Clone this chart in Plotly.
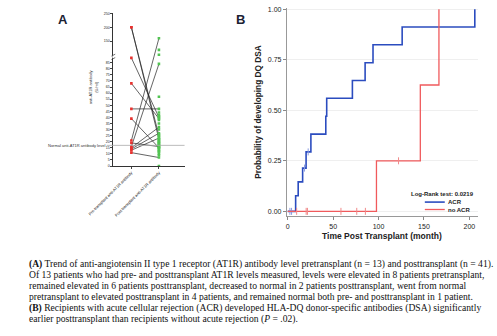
import numpy as np
import plotly.graph_objects as go

W, H = 497, 336

# ---------------- Panel A data (anti-AT1R antibody, U/ml) ----------------
pre_paired = [200, 200, 89, 68, 47, 39, 21, 19, 16, 15, 14, 13, 11]
post_paired = [22, 25, 40, 39, 47, 15, 160, 16, 84, 32, 27, 23, 7]
post_unpaired = [118, 100, 57, 44, 42, 41, 38, 35, 30, 26, 24, 22, 21, 20, 20,
                 19, 18, 18, 17, 16, 15, 14, 13, 12, 12, 10, 9, 0]
normal_level = 17
lower_ticks = list(range(0, 90, 5))
upper_ticks = [150, 200, 250]
cat_labels = ["Pre-transplant anti-AT1R antibody", "Post-transplant anti-AT1R antibody"]

# ---------------- Panel B data (Kaplan-Meier) ----------------
acr_t = [0, 8.7, 11.5, 16.4, 20.2, 25.5, 41.9, 42.9, 71.2, 85.2, 93.9, 126, 206]
acr_p = [0, 0.077, 0.146, 0.214, 0.294, 0.382, 0.47, 0.559, 0.647, 0.735, 0.824, 0.912, 1.0]
acr_cens = [2.4, 4.2, 18.5, 22.5]
noacr_t = [0, 97.7, 146, 166.5]
noacr_p = [0, 0.25, 0.625, 1.0]
noacr_cens = [9.8, 20.3, 21.7, 58.6, 76, 85.5, 122]
km_xticks = [0, 50, 100, 150, 200]
km_yticks = [0, 0.25, 0.5, 0.75, 1.0]
logrank = "Log-Rank test: 0.0219"

caption = [
    "<b>(A)</b> Trend of anti-angiotensin II type 1 receptor (AT1R) antibody level pretransplant (n = 13) and posttransplant (n = 41).",
    "Of 13 patients who had pre- and posttransplant AT1R levels measured, levels were elevated in 8 patients pretransplant,",
    "remained elevated in 6 patients posttransplant, decreased to normal in 2 patients posttransplant, went from normal",
    "pretransplant to elevated posttransplant in 4 patients, and remained normal both pre- and posttransplant in 1 patient.",
    "<b>(B)</b> Recipients with acute cellular rejection (ACR) developed HLA-DQ donor-specific antibodies (DSA) significantly",
    "earlier posttransplant than recipients without acute rejection (<i>P</i> = .02).",
]

BLUE = "#2b4cbf"
RED = "#f05a5c"


def brk(v):
    """broken-axis scale: linear 0-90, compressed above 100"""
    v = np.asarray(v, dtype=float)
    return np.where(v <= 90, v, 91.5 + (v - 100) * 0.2267)


def px(x):
    return x / W


def py(y):
    return 1 - y / H


fig = go.Figure()

# ---- Panel A ----
lx, ly = [], []
for a, b in zip(pre_paired, post_paired):
    lx += [0, 1, None]
    ly += [float(brk(a)), float(brk(b)), None]
fig.add_trace(go.Scatter(x=lx, y=ly, mode="lines", line=dict(color="#222", width=0.7),
                         xaxis="x", yaxis="y", hoverinfo="skip", showlegend=False))
post_all = post_paired + post_unpaired
fig.add_trace(go.Scatter(x=[1] * len(post_all), y=brk(post_all), mode="markers",
                         marker=dict(color="#52c452", size=2.6, symbol="square"),
                         xaxis="x", yaxis="y", showlegend=False))
fig.add_trace(go.Scatter(x=[0] * len(pre_paired), y=brk(pre_paired), mode="markers",
                         marker=dict(color="#e8322f", size=2.6, symbol="square"),
                         xaxis="x", yaxis="y", showlegend=False))

# ---- Panel B ----
def km_at(ts, ps, t):
    i = np.searchsorted(np.asarray(ts), t, side="right") - 1
    return np.asarray(ps)[i]

fig.add_trace(go.Scatter(x=acr_t, y=acr_p, mode="lines", line=dict(color=BLUE, width=1.6, shape="hv"),
                         xaxis="x2", yaxis="y2", showlegend=False))
fig.add_trace(go.Scatter(x=acr_cens, y=km_at(acr_t, acr_p, acr_cens), mode="markers",
                         marker=dict(symbol="line-ns", size=5, line=dict(color="#8a9be0", width=1)),
                         xaxis="x2", yaxis="y2", showlegend=False))
fig.add_trace(go.Scatter(x=noacr_t, y=noacr_p, mode="lines", line=dict(color=RED, width=1.3, shape="hv"),
                         xaxis="x2", yaxis="y2", showlegend=False))
fig.add_trace(go.Scatter(x=noacr_cens, y=km_at(noacr_t, noacr_p, noacr_cens), mode="markers",
                         marker=dict(symbol="line-ns", size=5, line=dict(color="#f08a8a", width=1)),
                         xaxis="x2", yaxis="y2", showlegend=False))

tick_a = lower_ticks + upper_ticks
fig.update_layout(
    width=W, height=H, margin=dict(l=0, r=0, t=0, b=0),
    paper_bgcolor="white", plot_bgcolor="white",
    font=dict(family="Liberation Sans, Arial", color="#222"),
    xaxis=dict(domain=[px(93), px(168)], range=[-0.655, 1.93], anchor="y",
               tickvals=[0, 1], ticktext=cat_labels, tickangle=-45,
               tickfont=dict(size=4), ticks="outside", ticklen=2, tickwidth=0.6,
               showline=True, linecolor="#333", linewidth=0.8, showgrid=False, zeroline=False),
    yaxis=dict(domain=[py(166), py(11)], range=[0, 126], anchor="x",
               tickvals=[float(v) for v in brk(tick_a)], ticktext=[str(t) for t in tick_a],
               tickfont=dict(size=3.6), ticks="outside", ticklen=2, tickwidth=0.6,
               showline=True, linecolor="#333", linewidth=0.8, showgrid=False, zeroline=False),
    xaxis2=dict(domain=[px(275.7), px(476.5)], range=[-1, 209], anchor="y2",
                tickvals=km_xticks, tickfont=dict(size=7, color="#222"),
                ticks="outside", ticklen=3, tickcolor="#888",
                showline=True, linecolor="#999", linewidth=1, showgrid=False, zeroline=False),
    yaxis2=dict(domain=[py(217), py(6)], range=[-0.025, 1.006], anchor="x2",
                tickvals=km_yticks, ticktext=["0.00", "0.25", "0.50", "0.75", "1.00"],
                tickfont=dict(size=7, color="#222"),
                ticks="outside", ticklen=3, tickcolor="#888",
                showline=True, linecolor="#999", linewidth=1,
                showgrid=True, gridcolor="#efefef", gridwidth=1, zeroline=False),
)

shapes = []
# normal level line
shapes.append(dict(type="line", xref="paper", yref="y", x0=px(86), x1=px(168),
                   y0=float(brk(normal_level)), y1=float(brk(normal_level)),
                   line=dict(color="#aaaaaa", width=0.8)))
# axis break marks
shapes.append(dict(type="rect", xref="paper", yref="y", x0=px(92), x1=px(94),
                   y0=88.6, y1=91.0, fillcolor="white", line=dict(width=0)))
for yb in (88.4, 91.2):
    shapes.append(dict(type="line", xref="paper", yref="y", x0=px(91), x1=px(95),
                       y0=yb - 0.8, y1=yb + 0.8, line=dict(color="#333", width=0.7)))
# KM legend samples
shapes.append(dict(type="line", xref="paper", yref="paper", x0=px(421), x1=px(442),
                   y0=py(202.5), y1=py(202.5), line=dict(color=BLUE, width=1.6)))
shapes.append(dict(type="line", xref="paper", yref="paper", x0=px(421), x1=px(442),
                   y0=py(210), y1=py(210), line=dict(color=RED, width=1.3)))


def note(text, x, y, size, xanchor="center", yanchor="middle", angle=0, color="#222",
         family=None, yref="paper"):
    f = dict(size=size, color=color)
    if family:
        f["family"] = family
    return dict(text=text, xref="paper", yref=yref, x=x, y=y, xanchor=xanchor,
                yanchor=yanchor, textangle=angle, showarrow=False, font=f)


ann = []
ann.append(note("Normal anti-AT1R antibody level", px(86), float(brk(normal_level)), 4,
                xanchor="right", color="#333", yref="y"))
ann.append(note("anti-AT1R antibody<br>(U/ml)", px(72), py(86), 4, angle=-90, color="#333"))
ann.append(note("<b>A</b>", px(40.5), py(18), 13, color="#1b2233", family="Liberation Sans"))
ann.append(note("<b>B</b>", px(226.5), py(18), 13, color="#1b2233", family="Liberation Sans"))
ann.append(note("<b>Probability of developing DQ DSA</b>", px(245), py(111.5), 8.3, angle=-90))
ann.append(note("<b>Time Post Transplant (month)</b>", px(376), py(237), 8.5))
ann.append(note("<b>" + logrank + "</b>", px(475), py(194.5), 6, xanchor="right"))
ann.append(note("<b>ACR</b>", px(443.5), py(202.5), 6, xanchor="left"))
ann.append(note("<b>no ACR</b>", px(443.5), py(210), 6, xanchor="left"))
for i, line in enumerate(caption):
    ann.append(note(line, px(2), py(265 + i * 11.15), 9.6, xanchor="left", color="#111",
                    family="Liberation Serif"))

fig.update_layout(shapes=shapes, annotations=ann)
fig.write_html("out.html")
